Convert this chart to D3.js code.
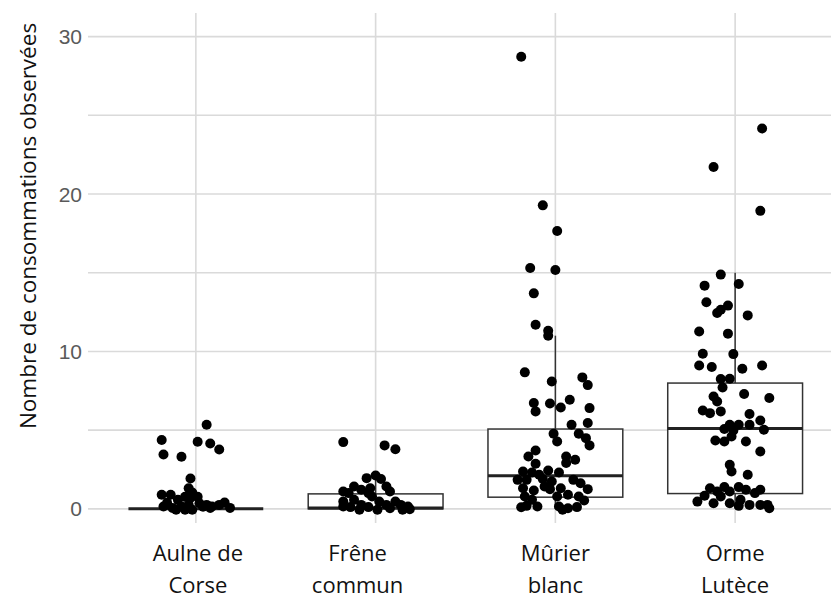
<!DOCTYPE html>
<html>
<head>
<meta charset="utf-8">
<script src="https://cdn.jsdelivr.net/npm/d3@7"></script>
<style>
  body { margin: 0; background: #fff; }
</style>
</head>
<body>
<script>
var width = 831,
    height = 602,
    radius = 5;

// categories (two-line labels)
var categories = ["Aulne de Corse", "Frêne commun", "Mûrier blanc", "Orme Lutèce"];
var labelLines = [["Aulne de", "Corse"], ["Frêne", "commun"], ["Mûrier", "blanc"], ["Orme", "Lutèce"]];

// box stats: [low whisker, q1, median, q3, high whisker]
var boxAulne  = [0, 0, 0, 0, 0];
var boxFrene  = [0, 0, 0.05, 0.95, 2.0];
var boxMurier = [0, 0.74, 2.1, 5.07, 11.0];
var boxOrme   = [0, 0.97, 5.1, 7.99, 15.0];

// observed values (jittered vertically as in the picture) and horizontal jitter (fraction of a category step)
var aulneVals = [5.34, 4.37, 4.26, 4.15, 3.77, 3.45, 3.31, 1.93, 1.31, 0.89, 0.89, 1.04, 0.76, 0.76, 0.57, 0.15,
  0.06, 0.15, 0.25, 0.36, 0.25, 0.15, 0.25, 0.40, 0.06, 0.13, -0.06, -0.06, 0.06, 0.38, 0.70, -0.06];
var aulneJit = [0.06, -0.19, 0.01, 0.08, 0.13, -0.18, -0.08, -0.03, -0.04, -0.19, -0.14, -0.02, 0.01, -0.06, -0.10, -0.18,
  -0.13, -0.08, -0.04, 0.02, 0.06, 0.09, 0.13, 0.16, 0.19, 0.04, -0.11, -0.02, 0.08, -0.16, -0.03, -0.06];

var freneVals = [4.24, 4.03, 3.79, 1.95, 2.12, 1.89, 1.42, 1.10, 1.21, 1.31, 1.42, 1.10, 1.00, 1.00, 0.46, 0.57,
  0.15, 0.11, 0.25, 0.11, 0.46, 0.25, 0.46, 0.25, 0.15, 0.04, -0.06, -0.06, -0.06, -0.02, 0.78];
var freneJit = [-0.18, 0.05, 0.11, -0.05, 0, 0.03, -0.12, -0.18, -0.08, -0.03, 0.06, 0.08, -0.15, -0.04, -0.18, -0.12,
  -0.18, -0.14, -0.08, -0.04, 0.02, 0.06, 0.11, 0.14, 0.18, 0.08, -0.09, 0.01, 0.15, 0.19, -0.02];

var murierVals = [28.72, 19.28, 17.65, 15.30, 15.17, 13.69, 11.70, 11.31, 11.00, 8.67, 8.09, 8.35, 7.86, 6.72, 6.69,
  6.93, 6.19, 6.44, 6.40, 5.34, 5.45, 4.77, 4.77, 4.28, 4.49, 4.03, 3.71, 3.33, 3.33, 3.12, 2.86, 2.91, 2.37, 2.31,
  2.43, 2.31, 1.84, 1.84, 1.89, 1.74, 1.84, 1.63, 1.31, 1.16, 1.25, 1.31, 1.25, 0.78, 0.57, 0.78, 0.89, 0.78, 0.53,
  0.19, 0.15, 0.15, 0.04, 0.11, -0.06, 1.42, 2.16, 0.10];
var murierJit = [-0.19, -0.07, 0.01, -0.14, 0, -0.12, -0.11, -0.04, -0.04, -0.17, -0.02, 0.15, 0.18, -0.12, -0.03,
  0.08, -0.11, 0.03, 0.19, 0.09, 0.18, -0.01, 0.13, 0.01, 0.17, 0.19, -0.11, -0.15, 0.06, 0.11, -0.11, 0.06, -0.18, -0.13,
  -0.04, 0.02, -0.21, -0.16, -0.07, -0.02, 0.10, 0.14, -0.18, -0.12, -0.03, 0.03, 0.18, -0.17, -0.13, 0.01, 0.07, 0.13, 0.16,
  -0.16, -0.10, 0.02, 0.07, 0.12, 0.04, -0.06, -0.09, -0.19];

var ormeVals = [24.16, 21.72, 18.93, 14.88, 14.18, 14.28, 13.12, 12.91, 12.65, 12.44, 12.29, 11.27, 11.13, 9.85, 9.83,
  9.11, 9.01, 8.90, 9.11, 8.25, 8.26, 7.71, 7.29, 7.04, 7.14, 6.82, 6.25, 6.08, 6.19, 6.02, 5.61, 5.34, 5.34, 5.34, 5.07,
  4.98, 5.02, 4.34, 4.28, 4.28, 4.60, 3.64, 2.80, 2.37, 2.16, 1.31, 1.38, 1.38, 1.21, 1.10, 1.10, 1.21, 0.83, 0.78, 1.00,
  0.46, 0.36, 0.36, 0.57, 0.25, 0.25, 0.25, 0.04, 0.19];
var ormeJit = [0.15, -0.12, 0.14, -0.08, -0.17, 0.02, -0.16, -0.04, -0.08, -0.10, 0.07, -0.20, -0.04, -0.18, -0.01,
  -0.20, -0.13, 0.04, 0.15, -0.08, -0.03, -0.07, 0.05, 0.19, -0.12, -0.10, -0.18, -0.14, -0.08, 0.08, 0.14, -0.03, 0.02, 0.08, -0.06,
  -0.01, 0.16, -0.11, -0.06, 0.06, -0.02, 0.14, -0.03, -0.02, 0.07, -0.14, -0.06, 0.02, 0.14, -0.10, -0.03, 0.06, -0.17, -0.08, 0.11,
  -0.21, -0.12, -0.03, 0.03, 0.08, 0.14, 0.18, 0.19, 0.02];

var yTicks = [0, 10, 20, 30];
var yGrid = [0, 5, 10, 15, 20, 25, 30];

var boxes = [boxAulne, boxFrene, boxMurier, boxOrme];
var vals = [aulneVals, freneVals, murierVals, ormeVals];
var jits = [aulneJit, freneJit, murierJit, ormeJit];

var panel = { left: 88, right: 843, top: 13, bottom: 523 };
var labelNudge = [2, -18, 0, 0]; // the labels were placed by hand in the original

var svg = d3.select("body")
  .append("svg")
  .attr("width", width)
  .attr("height", height);

var x = d3.scalePoint()
  .domain(categories)
  .range([panel.left, panel.right])
  .padding(0.6);

var y = d3.scaleLinear()
  .domain([-0.9, 31.5])
  .range([panel.bottom, panel.top]);

var boxWidth = x.step() * 0.75;

// grid
svg.append("g")
  .selectAll("line")
  .data(yGrid)
  .enter().append("line")
  .attr("x1", panel.left)
  .attr("x2", width)
  .attr("y1", function(d) { return y(d); })
  .attr("y2", function(d) { return y(d); })
  .attr("stroke", "#dadada")
  .attr("stroke-width", 1.6);

svg.append("g")
  .selectAll("line")
  .data(categories)
  .enter().append("line")
  .attr("x1", function(d) { return x(d); })
  .attr("x2", function(d) { return x(d); })
  .attr("y1", panel.top)
  .attr("y2", panel.bottom)
  .attr("stroke", "#dadada")
  .attr("stroke-width", 1.6);

// y tick labels
svg.append("g")
  .selectAll("text")
  .data(yTicks)
  .enter().append("text")
  .attr("x", 82)
  .attr("y", function(d) { return y(d); })
  .attr("dy", "0.36em")
  .attr("text-anchor", "end")
  .attr("font-family", "'Liberation Sans', Arial, sans-serif")
  .attr("font-size", 21)
  .attr("fill", "#5a5a5a")
  .text(function(d) { return d; });

// y title
svg.append("text")
  .attr("transform", "translate(36," + 226 + ") rotate(-90)")
  .attr("text-anchor", "middle")
  .attr("font-family", "'Open Sans', 'Noto Sans', sans-serif")
  .attr("font-size", 22.5)
  .attr("fill", "#111")
  .text("Nombre de consommations observées");

// x labels
var xl = svg.append("g")
  .selectAll("text")
  .data(categories)
  .enter().append("text")
  .attr("text-anchor", "middle")
  .attr("font-family", "'Open Sans', 'Noto Sans', sans-serif")
  .attr("font-size", 22)
  .attr("fill", "#111");

xl.selectAll("tspan")
  .data(function(d, i) { return labelLines[i].map(function(t) { return { t: t, c: d, i: i }; }); })
  .enter().append("tspan")
  .attr("x", function(d) { return x(d.c) + labelNudge[d.i]; })
  .attr("y", function(d, j) { return 561 + j * 32; })
  .text(function(d) { return d.t; });

// boxplots
var bp = svg.append("g")
  .selectAll("g")
  .data(categories)
  .enter().append("g");

bp.append("line")
  .attr("x1", function(d) { return x(d); })
  .attr("x2", function(d) { return x(d); })
  .attr("y1", function(d, i) { return y(boxes[i][3]); })
  .attr("y2", function(d, i) { return y(boxes[i][4]); })
  .attr("stroke", "#333")
  .attr("stroke-width", 1.5);

bp.append("line")
  .attr("x1", function(d) { return x(d); })
  .attr("x2", function(d) { return x(d); })
  .attr("y1", function(d, i) { return y(boxes[i][0]); })
  .attr("y2", function(d, i) { return y(boxes[i][1]); })
  .attr("stroke", "#333")
  .attr("stroke-width", 1.5);

bp.append("rect")
  .attr("x", function(d) { return x(d) - boxWidth / 2; })
  .attr("width", boxWidth)
  .attr("y", function(d, i) { return y(boxes[i][3]); })
  .attr("height", function(d, i) { return y(boxes[i][1]) - y(boxes[i][3]); })
  .attr("fill", "#fff")
  .attr("stroke", "#333")
  .attr("stroke-width", 1.5);

bp.append("line")
  .attr("x1", function(d) { return x(d) - boxWidth / 2; })
  .attr("x2", function(d) { return x(d) + boxWidth / 2; })
  .attr("y1", function(d, i) { return y(boxes[i][2]); })
  .attr("y2", function(d, i) { return y(boxes[i][2]); })
  .attr("stroke", "#222")
  .attr("stroke-width", 3);

// jittered points
var points = [];
categories.forEach(function(c, i) {
  vals[i].forEach(function(v, k) {
    points.push({ c: c, v: v, j: jits[i][k] });
  });
});

svg.append("g")
  .selectAll("circle")
  .data(points)
  .enter().append("circle")
  .attr("cx", function(d) { return x(d.c) + d.j * x.step(); })
  .attr("cy", function(d) { return y(d.v); })
  .attr("r", radius)
  .attr("fill", "#000");
</script>
</body>
</html>
